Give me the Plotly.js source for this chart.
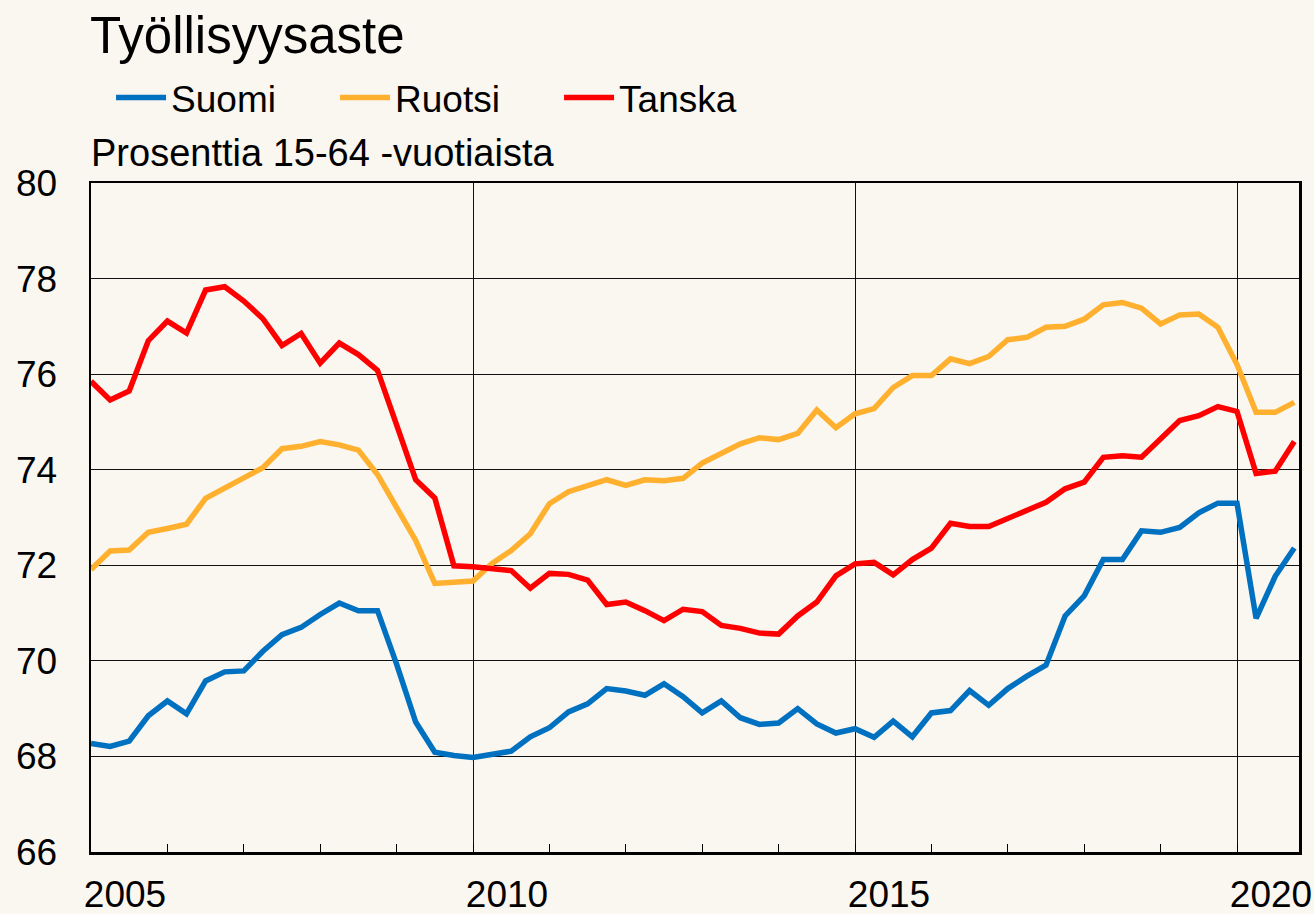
<!DOCTYPE html>
<html>
<head>
<meta charset="utf-8">
<script src="https://cdn.plot.ly/plotly-3.0.1.min.js"></script>
<style>
  html, body { margin: 0; padding: 0; background: #FAF6F0; }
  #chart { width: 1314px; height: 914px; }
</style>
</head>
<body>
<div id="chart"></div>
<script>
// Quarterly data 2005Q1 - 2020Q4
const startYear = 2005;
const yearLabels = ["2005", "2010", "2015", "2020"];

const suomi = [
  68.27, 68.21, 68.32, 68.85, 69.16, 68.89, 69.58, 69.77, 69.79, 70.20,
  70.55, 70.70, 70.97, 71.21, 71.05, 71.05, 69.93, 68.72, 68.09, 68.02,
  67.98, 68.05, 68.11, 68.41, 68.60, 68.93, 69.10, 69.42, 69.37, 69.28,
  69.52, 69.25, 68.91, 69.16, 68.81, 68.67, 68.70, 69.00, 68.68, 68.49,
  68.58, 68.40, 68.74, 68.41, 68.91, 68.96, 69.38, 69.07, 69.42, 69.68,
  69.91, 70.94, 71.36, 72.12, 72.12, 72.72, 72.69, 72.79, 73.10, 73.30,
  73.30, 70.89, 71.77, 72.36
];

const ruotsi = [
  71.91, 72.30, 72.32, 72.69, 72.77, 72.86, 73.40, 73.60, 73.83, 74.04,
  74.44, 74.49, 74.59, 74.52, 74.41, 73.90, 73.21, 72.52, 71.62, 71.64,
  71.67, 72.04, 72.31, 72.66, 73.29, 73.54, 73.66, 73.79, 73.67, 73.79,
  73.77, 73.82, 74.14, 74.35, 74.54, 74.67, 74.63, 74.76, 75.25, 74.88,
  75.17, 75.28, 75.72, 75.97, 75.97, 76.32, 76.22, 76.37, 76.72, 76.77,
  76.98, 77.00, 77.15, 77.45, 77.50, 77.38, 77.05, 77.24, 77.26, 76.98,
  76.20, 75.20, 75.20, 75.41
];

const tanska = [
  75.85, 75.46, 75.65, 76.70, 77.11, 76.86, 77.76, 77.83, 77.53, 77.16,
  76.60, 76.85, 76.23, 76.65, 76.41, 76.08, 74.94, 73.79, 73.41, 71.99,
  71.97, 71.94, 71.89, 71.52, 71.83, 71.81, 71.69, 71.18, 71.23, 71.05,
  70.84, 71.08, 71.03, 70.74, 70.68, 70.58, 70.56, 70.94, 71.23, 71.78,
  72.03, 72.06, 71.80, 72.12, 72.36, 72.88, 72.81, 72.81, 72.97, 73.16,
  73.32, 73.60, 73.74, 74.26, 74.29, 74.26, 74.66, 75.03, 75.13, 75.32,
  75.22, 73.92, 73.97, 74.59
];

// quarter positions on a continuous year axis (Q1 at year start)
const quarters = suomi.map((_, i) => startYear + Math.floor(i / 4) + (i % 4) / 4);

const FONT = "Liberation Sans, Arial, sans-serif";
const BG = "#FAF6F0";

const traces = [
  { x: quarters, y: suomi, name: "Suomi", type: "scatter", mode: "lines",
    line: { color: "#0070C0", width: 5.5 } },
  { x: quarters, y: ruotsi, name: "Ruotsi", type: "scatter", mode: "lines",
    line: { color: "#FFB02E", width: 5.5 } },
  { x: quarters, y: tanska, name: "Tanska", type: "scatter", mode: "lines",
    line: { color: "#FF0000", width: 5.5 } }
];

const layout = {
  width: 1314, height: 914,
  paper_bgcolor: BG, plot_bgcolor: BG,
  font: { family: FONT, size: 37, color: "#000" },
  margin: { l: 91, r: 15, t: 183, b: 62, pad: 0 },
  title: {
    text: "Työllisyysaste",
    font: { family: FONT, size: 51, color: "#000" },
    xref: "container", x: 90 / 1314, xanchor: "left",
    yref: "container", y: 1 - 35 / 914, yanchor: "middle"
  },
  showlegend: true,
  legend: {
    orientation: "h",
    x: 0.0166, xanchor: "left",
    y: 1 + (183 - 98) / 669, yanchor: "middle",
    font: { family: FONT, size: 37, color: "#000" },
    bgcolor: "rgba(0,0,0,0)",
    entrywidth: 159, entrywidthmode: "pixels",
    itemwidth: 50,
    traceorder: "normal"
  },
  xaxis: {
    range: [2005, 2005 + 1208 / 76.4],
    tickvals: [2005, 2010, 2015, 2020],
    ticktext: yearLabels,
    ticklabelshift: 34,
    ticklabelstandoff: 8,
    ticks: "inside", ticklen: 8, tickwidth: 1, tickcolor: "#000",
    minor: { tick0: 2005, dtick: 1, ticks: "inside", ticklen: 8, tickwidth: 1,
             tickcolor: "#000", showgrid: false },
    showgrid: true, gridcolor: "#111", gridwidth: 1,
    showline: true, linecolor: "#000", linewidth: 2.5, mirror: true,
    zeroline: false, automargin: false, fixedrange: true,
    tickfont: { family: FONT, size: 37, color: "#000" }
  },
  yaxis: {
    range: [66, 80], dtick: 2, tick0: 66,
    ticks: "", ticklabelstandoff: 24,
    showgrid: true, gridcolor: "#111", gridwidth: 1,
    showline: true, linecolor: "#000", linewidth: 2.5, mirror: true,
    zeroline: false, automargin: false, fixedrange: true,
    tickfont: { family: FONT, size: 37, color: "#000" }
  },
  annotations: [
    { text: "Prosenttia 15-64 -vuotiaista", xref: "paper", yref: "paper",
      x: 0, xanchor: "left", xshift: -2, y: 1 + (183 - 153) / 669, yanchor: "middle",
      showarrow: false, font: { family: FONT, size: 38, color: "#000" } }
  ]
};

Plotly.newPlot("chart", traces, layout, { displayModeBar: false, staticPlot: true });
</script>
</body>
</html>
